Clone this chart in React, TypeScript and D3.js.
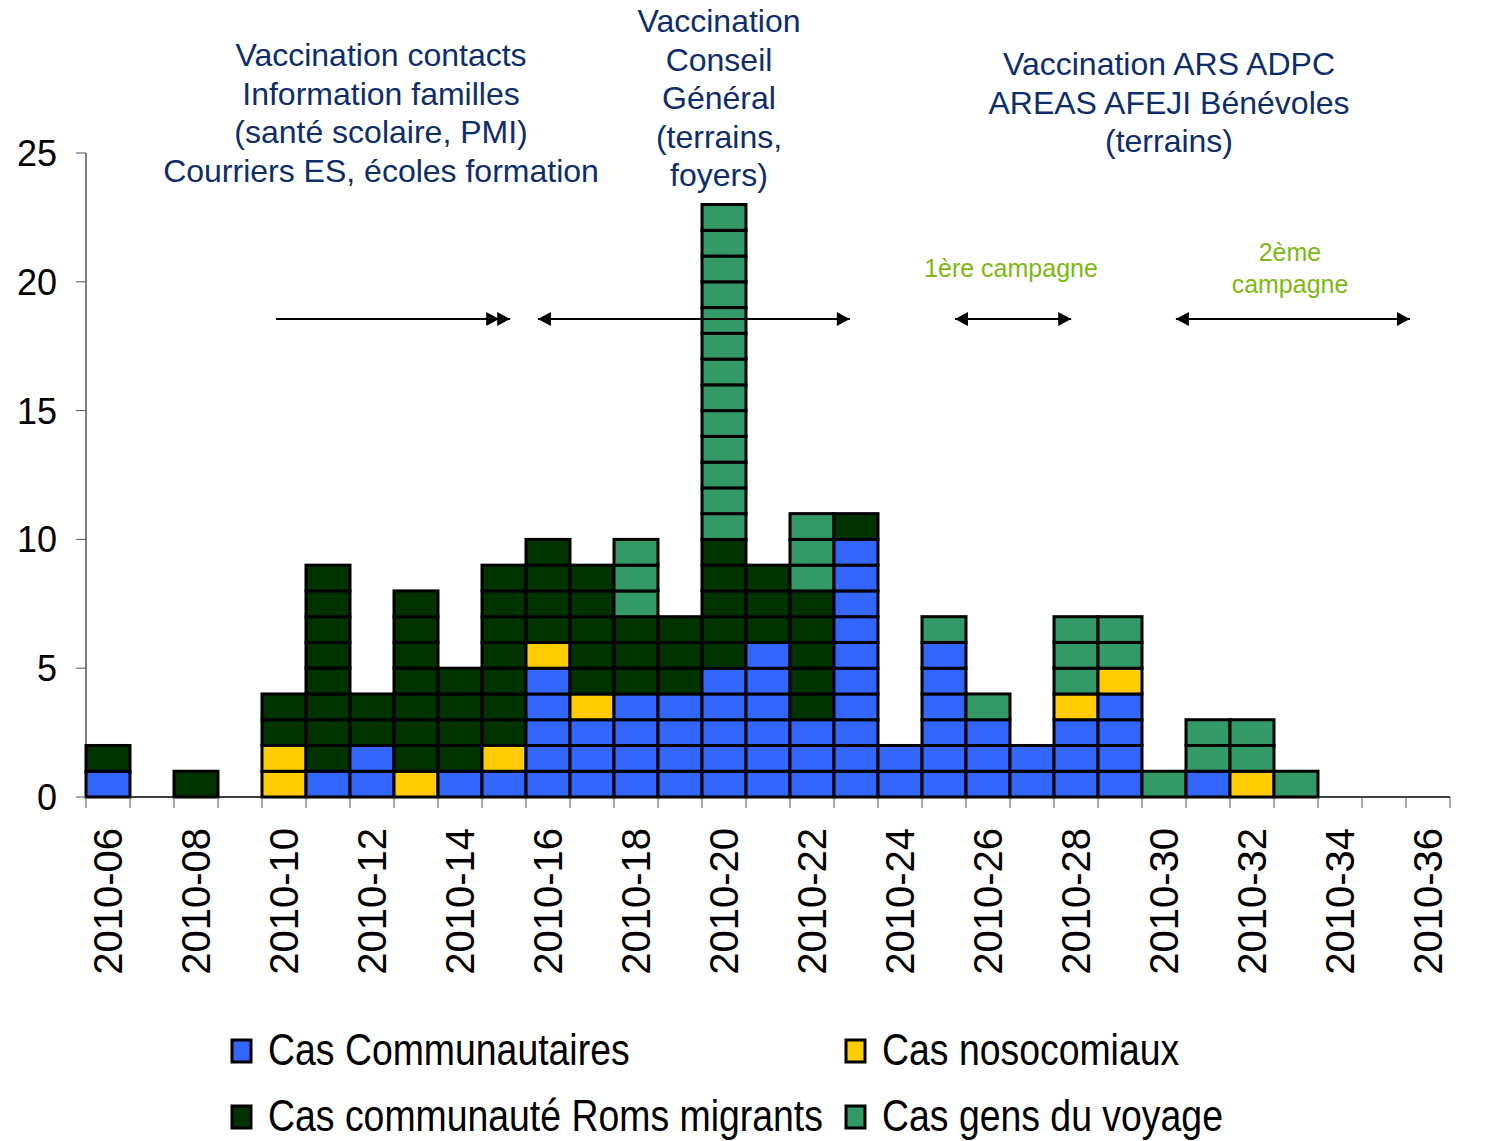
import * as d3 from "d3";

const weeks = [
  "2010-06", "2010-07", "2010-08", "2010-09", "2010-10", "2010-11", "2010-12",
  "2010-13", "2010-14", "2010-15", "2010-16", "2010-17", "2010-18", "2010-19",
  "2010-20", "2010-21", "2010-22", "2010-23", "2010-24", "2010-25", "2010-26",
  "2010-27", "2010-28", "2010-29", "2010-30", "2010-31", "2010-32", "2010-33",
  "2010-34", "2010-35", "2010-36",
];
const tickWeeks = weeks.filter((_, i) => i % 2 === 0);

// counts per week, stacked bottom -> top
const communautaires = [1, 0, 0, 0, 0, 1, 2, 0, 1, 1, 5, 3, 4, 4, 5, 6, 3, 10, 2, 6, 3, 2, 3, 4, 0, 1, 0, 0, 0, 0, 0];
const nosocomiaux = [0, 0, 0, 0, 2, 0, 0, 1, 0, 1, 1, 1, 0, 0, 0, 0, 0, 0, 0, 0, 0, 0, 1, 1, 0, 0, 1, 0, 0, 0, 0];
const roms = [1, 0, 1, 0, 2, 8, 2, 7, 4, 7, 4, 5, 3, 3, 5, 3, 5, 1, 0, 0, 0, 0, 0, 0, 0, 0, 0, 0, 0, 0, 0];
const voyage = [0, 0, 0, 0, 0, 0, 0, 0, 0, 0, 0, 0, 3, 0, 13, 0, 3, 0, 0, 1, 1, 0, 3, 2, 1, 2, 2, 1, 0, 0, 0];

const series = [
  { name: "Cas Communautaires", values: communautaires, color: "#3366FF" },
  { name: "Cas nosocomiaux", values: nosocomiaux, color: "#FFCC00" },
  { name: "Cas communauté Roms migrants", values: roms, color: "#003300" },
  { name: "Cas gens du voyage", values: voyage, color: "#339966" },
];

const yTicks = [0, 5, 10, 15, 20, 25];

// arrows in week-index units [start, end, kind]
const arrows: [number, number, string][] = [
  [4.32, 9.64, "double-right"],
  [10.27, 17.36, "both"],
  [19.75, 22.39, "both"],
  [24.77, 30.09, "both"],
];

const blueText = "#0D2D6B";
const greenText = "#7DB912";
const font = "'Liberation Sans', Arial, sans-serif";

export default function App() {
  const width = 1487;
  const height = 1141;
  const margin = { left: 86, right: 37, top: 153, bottom: 344 };

  const x = d3.scaleBand(weeks, [margin.left, width - margin.right]);
  const xLin = d3.scaleLinear([0, weeks.length], [margin.left, width - margin.right]);
  const y = d3.scaleLinear([0, 25], [height - margin.bottom, margin.top]);

  const cells: { x: number; y: number; w: number; h: number; color: string; key: string }[] = [];
  weeks.forEach((wk, i) => {
    let base = 0;
    series.forEach((s) => {
      for (let k = 0; k < s.values[i]; k++) {
        cells.push({
          x: x(wk)!,
          y: y(base + 1),
          w: x.bandwidth(),
          h: y(base) - y(base + 1),
          color: s.color,
          key: `${wk}-${s.name}-${k}`,
        });
        base++;
      }
    });
  });

  const head = (tip: number, dir: number, key: string) => {
    const ay = 319;
    const len = 13;
    const hw = 7;
    return (
      <path
        key={key}
        d={`M${tip},${ay} L${tip - dir * len},${ay - hw} L${tip - dir * len},${ay + hw} Z`}
        fill="#000"
      />
    );
  };

  const y0 = y(0);

  return (
    <svg
      width={width}
      height={height}
      style={{ position: "absolute", left: 0, top: 0, background: "#fff" }}
      fontFamily={font}
    >
      {/* bars as stacked cells */}
      <g>
        {cells.map((c) => (
          <rect
            key={c.key}
            x={c.x}
            y={c.y}
            width={c.w}
            height={c.h}
            fill={c.color}
            stroke="#000"
            strokeWidth={3}
          />
        ))}
      </g>

      {/* y axis */}
      <line x1={margin.left} x2={margin.left} y1={y(25)} y2={y0} stroke="#000" strokeWidth={1} />
      {yTicks.map((t) => (
        <g key={t}>
          <line x1={margin.left - 10} x2={margin.left} y1={y(t)} y2={y(t)} stroke="#555" />
          <text x={57} y={y(t)} dy="0.36em" textAnchor="end" fontSize={36} fill="#000">
            {t}
          </text>
        </g>
      ))}

      {/* x axis */}
      <line x1={margin.left} x2={width - margin.right} y1={y0} y2={y0} stroke="#000" strokeWidth={1.5} />
      {d3.range(weeks.length + 1).map((i) => (
        <line key={i} x1={xLin(i)} x2={xLin(i)} y1={y0} y2={y0 + 11} stroke="#555" />
      ))}
      {tickWeeks.map((wk) => {
        const cx = x(wk)! + x.bandwidth() / 2;
        return (
          <text
            key={wk}
            transform={`translate(${cx + 14},${y0 + 31}) rotate(-90)`}
            textAnchor="end"
            fontSize={40}
            fill="#000"
          >
            {wk}
          </text>
        );
      })}

      {/* arrows */}
      {arrows.map(([a, b, kind], i) => {
        const x1 = xLin(a);
        const x2 = xLin(b);
        return (
          <g key={i}>
            <line x1={x1} x2={x2} y1={319} y2={319} stroke="#000" strokeWidth={2} />
            {head(x2, 1, "r")}
            {kind === "double-right" ? head(x2 - 11, 1, "r2") : head(x1, -1, "l")}
          </g>
        );
      })}

      {/* annotations */}
      <text textAnchor="middle" fontSize={32} fill={blueText}>
        {["Vaccination contacts", "Information familles", "(santé scolaire, PMI)", "Courriers ES, écoles formation"].map(
          (l, i) => (
            <tspan key={i} x={381} y={66 + i * 38.5}>
              {l}
            </tspan>
          )
        )}
      </text>
      <text textAnchor="middle" fontSize={32} fill={blueText}>
        {["Vaccination", "Conseil", "Général", "(terrains,", "foyers)"].map((l, i) => (
          <tspan key={i} x={719} y={32 + i * 38.5}>
            {l}
          </tspan>
        ))}
      </text>
      <text textAnchor="middle" fontSize={32} fill={blueText}>
        {["Vaccination ARS ADPC", "AREAS AFEJI Bénévoles", "(terrains)"].map((l, i) => (
          <tspan key={i} x={1169} y={75 + i * 38.5}>
            {l}
          </tspan>
        ))}
      </text>
      <text x={1011} y={277} textAnchor="middle" fontSize={25} fill={greenText}>
        1ère campagne
      </text>
      <text textAnchor="middle" fontSize={25} fill={greenText}>
        <tspan x={1290} y={261}>2ème</tspan>
        <tspan x={1290} y={293}>campagne</tspan>
      </text>

      {/* legend */}
      {series.map((s, i) => {
        const col = i % 2;
        const row = Math.floor(i / 2);
        const lx = col === 0 ? 232 : 846;
        const ly = row === 0 ? 1050 : 1116;
        return (
          <g key={s.name}>
            <rect x={lx} y={ly - 10} width={19} height={22} fill={s.color} stroke="#000" strokeWidth={3} />
            <text
              transform={`translate(${lx + 36},${ly + 15}) scale(0.85,1)`}
              fontSize={44}
              fill="#000"
            >
              {s.name}
            </text>
          </g>
        );
      })}
    </svg>
  );
}
